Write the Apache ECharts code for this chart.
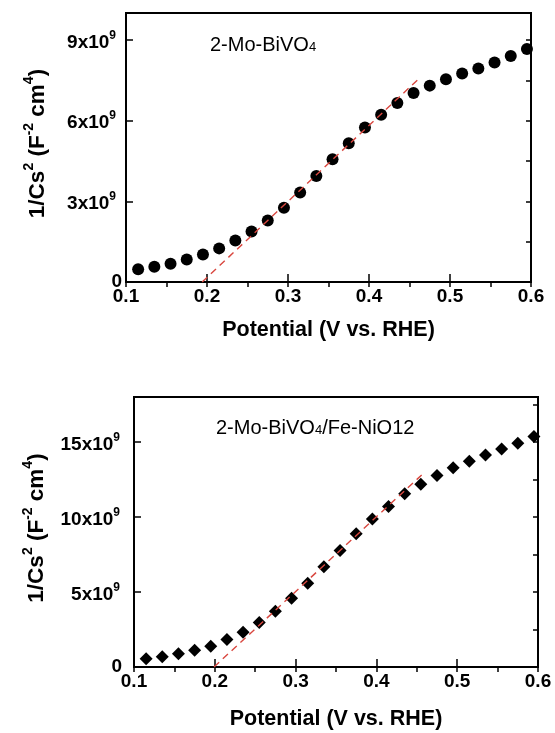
<!DOCTYPE html>
<html><head><meta charset="utf-8">
<script src="https://cdn.jsdelivr.net/npm/echarts@6/dist/echarts.min.js"></script>
<style>html,body{margin:0;padding:0;background:#fff}#c{width:555px;height:733px}</style>
</head><body><div id="c"></div>
<script>
// Potential (V vs. RHE)
const potential = [0.115,0.135,0.155,0.175,0.195,0.215,0.235,0.255,0.275,0.295,0.315,0.335,0.355,0.375,0.395,0.415,0.435,0.455,0.475,0.495,0.515,0.535,0.555,0.575,0.595];
// 1/Cs^2 in units of 1e9 F^-2 cm^4
const moBiVO4 = [0.47,0.57,0.68,0.84,1.02,1.25,1.54,1.88,2.29,2.76,3.33,3.94,4.56,5.16,5.74,6.22,6.65,7.03,7.30,7.54,7.75,7.94,8.16,8.40,8.66];
const moBiVO4FeNiO = [0.55,0.68,0.88,1.12,1.39,1.83,2.32,2.97,3.72,4.59,5.59,6.68,7.77,8.88,9.86,10.70,11.55,12.19,12.77,13.28,13.72,14.14,14.54,14.92,15.37];
// Mott-Schottky linear fits (dashed)
const fitMoBiVO4 = [[0.194,0],[0.463,7.6]];
const fitFeNiO = [[0.199,0],[0.456,12.8]];
// labels
const labelTop = '2-Mo-BiVO';
const labelBottom = ['2-Mo-BiVO','/Fe-NiO12'];
const xName = 'Potential (V vs. RHE)';

const FF = 'Liberation Sans, Arial, sans-serif';
const chart = echarts.init(document.getElementById('c'), null, {renderer:'canvas'});

function xAxes(gi, gap){
  return [{
    type:'value', gridIndex:gi, min:0.1, max:0.6, interval:0.1,
    axisLine:{show:true,onZero:false,lineStyle:{color:'#000',width:2}},
    axisTick:{inside:true,length:8,lineStyle:{color:'#000',width:1.5}},
    axisLabel:{color:'#000',fontFamily:FF,fontWeight:'bold',fontSize:19,margin:5,formatter:v=>v.toFixed(1)},
    splitLine:{show:false},
    name:xName,nameLocation:'middle',nameGap:gap,
    nameTextStyle:{color:'#000',fontFamily:FF,fontWeight:'bold',fontSize:21.5}
  },{
    type:'value', gridIndex:gi, min:0.1, max:0.6, interval:0.05,
    axisLine:{show:false}, axisLabel:{show:false}, splitLine:{show:false},
    axisTick:{inside:true,length:5,lineStyle:{color:'#000',width:1.5}}
  }];
}
function yAxes(gi, max, major, minor, gap, margin, supPad){
  const rich = {
    m:{fontFamily:FF,fontWeight:'bold',fontSize:19,lineHeight:19,padding:[5,0,0,0],color:'#000'},
    s:{fontFamily:FF,fontWeight:'bold',fontSize:12,lineHeight:12,padding:[0,supPad,9,0],color:'#000'},
    z:{fontFamily:FF,fontWeight:'bold',fontSize:19,color:'#000'}
  };
  const nrich = {
    m:{fontFamily:FF,fontWeight:'bold',fontSize:22.5,lineHeight:22,padding:[6,0,0,0],color:'#000'},
    s:{fontFamily:FF,fontWeight:'bold',fontSize:14,lineHeight:14,padding:[0,0,12,0],color:'#000'}
  };
  return [{
    type:'value', gridIndex:gi, min:0, max:max, interval:major,
    axisLine:{show:true,lineStyle:{color:'#000',width:2}},
    axisTick:{inside:true,length:7,lineStyle:{color:'#000',width:1.5}},
    axisLabel:{showMaxLabel:false,margin:margin,rich:rich,
      formatter:v=> v===0 ? '{z|0}' : (v%major===0 ? '{m|'+v+'x10}{s|9}' : '')},
    splitLine:{show:false},
    name:'{m|1/Cs}{s|2}{m| (F}{s|-2}{m| cm}{s|4}{m|)}',
    nameLocation:'middle', nameGap:gap,
    nameTextStyle:{rich:nrich,padding:[0,0,0,8]}
  },{
    type:'value', gridIndex:gi, min:0, max:max, interval:minor,
    axisLine:{show:false}, axisLabel:{show:false}, splitLine:{show:false},
    axisTick:{inside:true,length:5,lineStyle:{color:'#000',width:1.5}}
  }];
}

const annRich = {
  m:{fontFamily:FF,fontSize:20,lineHeight:20,fill:'#000'},
  sub:{fontFamily:FF,fontSize:13,lineHeight:13,padding:[5,0,0,0],fill:'#000'}
};

chart.setOption({
  backgroundColor:'#fff',
  animation:false,
  grid:[
    {left:126,right:24,top:13,height:269,show:true,borderColor:'#000',borderWidth:2,containLabel:false},
    {left:134,right:17,top:397,height:270,show:true,borderColor:'#000',borderWidth:2,containLabel:false}
  ],
  xAxis:[...xAxes(0,37),...xAxes(1,41)],
  yAxis:[...yAxes(0,10,3,1.5,80,4,6),...yAxes(1,18,5,2.5,89,12,2)],
  graphic:[
    {type:'text',x:210,y:45,style:{text:'{m|'+labelTop+'}{sub|4}',rich:annRich,verticalAlign:'middle',fill:'#000'}},
    {type:'text',x:216,y:428,style:{text:'{m|'+labelBottom[0]+'}{sub|4}{m|'+labelBottom[1]+'}',rich:annRich,verticalAlign:'middle',fill:'#000'}}
  ],
  series:[
    {type:'scatter',xAxisIndex:0,yAxisIndex:0,symbol:'circle',symbolSize:12,itemStyle:{color:'#000',opacity:1},
     data:potential.map((x,i)=>[x,moBiVO4[i]]),z:2},
    {type:'line',xAxisIndex:0,yAxisIndex:0,showSymbol:false,symbol:'none',data:fitMoBiVO4,
     lineStyle:{color:'#d9473f',width:1.4,type:[7,5]},z:3},
    {type:'scatter',xAxisIndex:2,yAxisIndex:2,symbol:'diamond',symbolSize:13,itemStyle:{color:'#000',opacity:1},
     data:potential.map((x,i)=>[x,moBiVO4FeNiO[i]]),z:2},
    {type:'line',xAxisIndex:2,yAxisIndex:2,showSymbol:false,symbol:'none',data:fitFeNiO,
     lineStyle:{color:'#d9473f',width:1.4,type:[7,5]},z:3}
  ]
});
</script></body></html>
